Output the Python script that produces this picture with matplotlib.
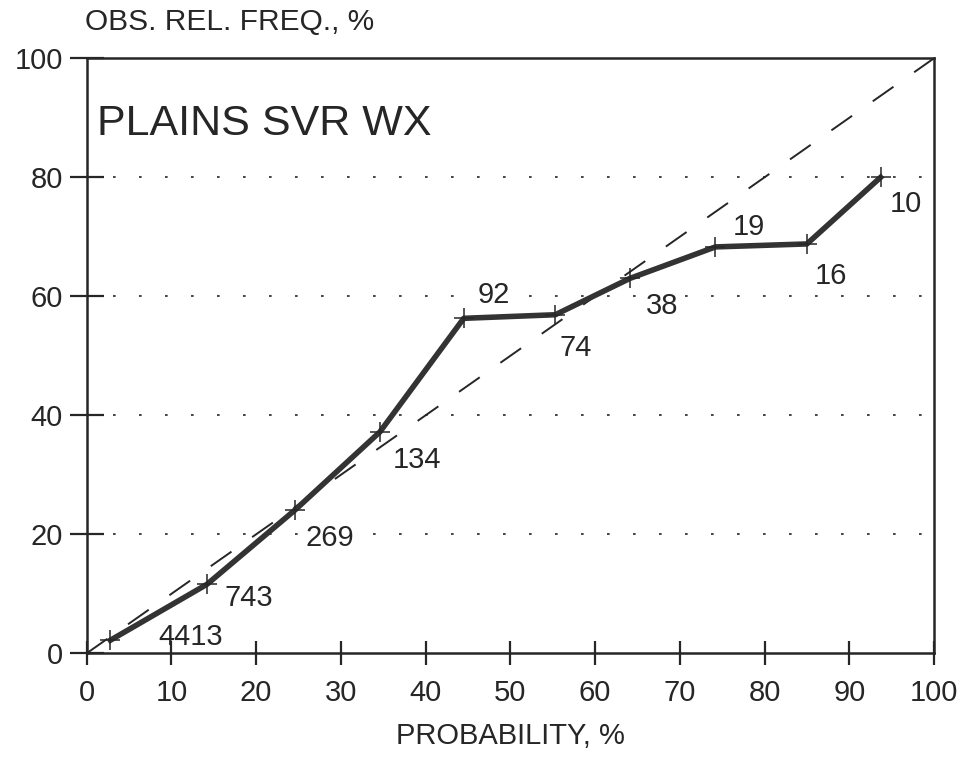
"""Reliability diagram: observed relative frequency vs forecast probability."""
import matplotlib
matplotlib.use("Agg")
import matplotlib.pyplot as plt  # noqa: E402

plt.rcParams["font.family"] = ["Liberation Sans", "DejaVu Sans"]

INK = "#262626"

# forecast probability bins (%), observed relative frequency (%), sample counts
prob = [2.8, 14.2, 24.6, 34.6, 44.5, 55.3, 64.1, 74.2, 85.0, 93.7]
obs_freq = [2.2, 11.6, 24.1, 37.2, 56.3, 56.9, 63.0, 68.3, 68.8, 80.0]
counts = ["4413", "743", "269", "134", "92", "74", "38", "19", "16", "10"]

# label offsets from each point, in points (x right, y up)
label_off = [(58, 2), (30, -10), (25, -20), (27, -20), (22, 17),
             (15, -24), (23, -20), (24, 14), (17, -23), (18, -19)]

fig = plt.figure(figsize=(9.62, 7.61), dpi=100)
ax = fig.add_axes([0.0901, 0.1415, 0.8808, 0.7819])
ax.set_axisbelow(False)

ax.set_xlim(0, 100)
ax.set_ylim(0, 100)

# horizontal dotted guides
for yv in (20, 40, 60, 80):
    ax.plot([0, 100], [yv, yv], color=INK, lw=1.2,
            ls=(0, (1.6, 14)), zorder=1)

# perfect reliability diagonal
ax.plot([0, 100], [0, 100], color=INK, lw=1.4, ls=(0, (13, 13)), zorder=2)

ax.plot(prob, obs_freq, color="#333333", lw=4.0, marker="+", ms=15,
        mew=1.1, mec=INK, solid_joinstyle="round", zorder=4)

for x, y, s, (dx, dy) in zip(prob, obs_freq, counts, label_off):
    ax.annotate(s, (x, y), xytext=(dx, dy), textcoords="offset points",
                ha="center", va="center", fontsize=21, color=INK, zorder=2.2,
                bbox=dict(boxstyle="square,pad=0.05", fc="white", ec="none"))

ax.text(0.012, 0.8896, "PLAINS SVR WX", transform=ax.transAxes,
        fontsize=31, color=INK, ha="left", va="center")

ax.set_xticks(range(0, 101, 10))
ax.set_yticks(range(0, 101, 20))
ax.tick_params(axis="x", direction="inout", length=17, width=1.6,
               labelsize=21, pad=10, colors=INK)
ax.tick_params(axis="y", direction="inout", length=24, width=1.6,
               labelsize=21, pad=5, colors=INK)
for sp in ax.spines.values():
    sp.set_linewidth(1.8)
    sp.set_color(INK)

ax.set_xlabel("PROBABILITY, %", fontsize=21, color=INK, labelpad=10.5)
fig.text(0.088, 0.971, "OBS. REL. FREQ., %", fontsize=21.5, color=INK,
         ha="left", va="center")

fig.savefig("out.png", dpi=100)
plt.close(fig)
